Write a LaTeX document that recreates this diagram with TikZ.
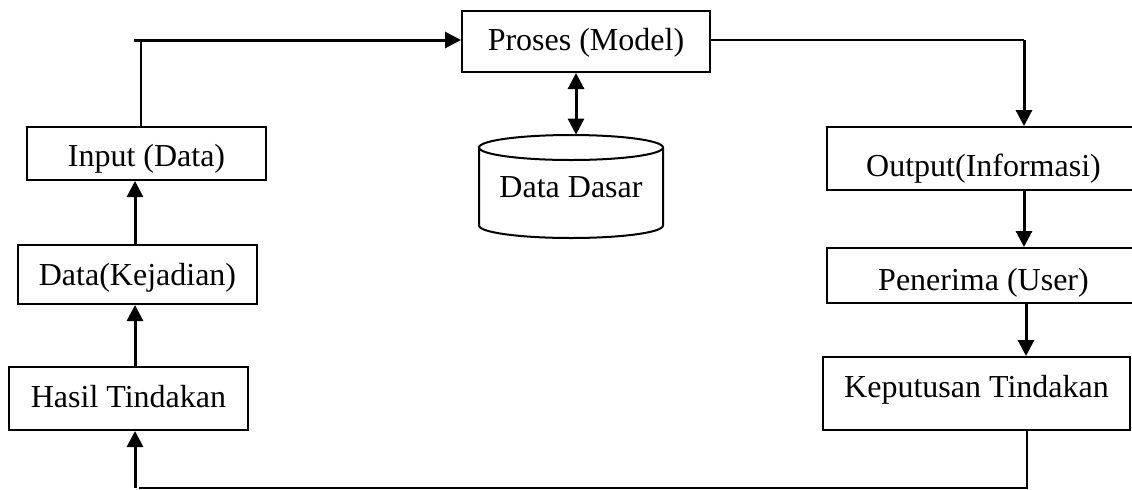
\documentclass[tikz,border=0pt]{standalone}
\usepackage{fontspec}
\setmainfont{Liberation Serif}
\usetikzlibrary{arrows.meta}
\begin{document}
\begin{tikzpicture}[x=0.5pt, y=-0.5pt,
  font=\fontsize{16pt}{19pt}\selectfont,
  box/.style={draw, line width=1pt, inner sep=0pt, align=center, text depth=4pt},
  lift/.style={text height=#1},
  link/.style={line width=1pt},
  flow/.style={line width=1.5pt, -{Triangle[width=8pt,length=8pt]}},
  twoway/.style={line width=1.5pt, {Triangle[width=8pt,length=8pt]}-{Triangle[width=8pt,length=8pt]}}]
\useasboundingbox (0,0) rectangle (1132,489);
\clip (0,0) rectangle (1132,489);

% boxes
\node[box, lift=16.5pt, minimum width=119.5pt, minimum height=26.5pt] (inp) at (146.5,153.5) {Input (Data)};
\node[box, lift=12.5pt, minimum width=124pt, minimum height=30.5pt] (proc) at (586,41.5) {Proses (Model)};
\node[box, lift=14.5pt, minimum width=119.5pt, minimum height=29.5pt] (kej) at (137.5,274.5) {Data(Kejadian)};
\node[box, lift=12.5pt, minimum width=119.5pt, minimum height=31.5pt] (has) at (128.5,398.5) {Hasil Tindakan};
\node[box, lift=22pt, minimum width=156.5pt, minimum height=31.5pt] (out) at (983.5,158.5) {Output(Informasi)};
\node[box, lift=18.5pt, minimum width=156.5pt, minimum height=27.5pt] (pen) at (983.5,275.5) {Penerima (User)};
\node[box, lift=7.5pt, minimum width=153.5pt, minimum height=36.5pt] (kep) at (976.5,393.5) {Keputusan Tindakan};

% database cylinder
\node[inner sep=0pt, text depth=4pt, text height=15pt, minimum width=92pt, minimum height=51.5pt] (db) at (571,186.5) {Data Dasar};
\draw[line width=1pt]
  (479,147.5) -- (479,225.5) arc[start angle=180, end angle=360, x radius=46pt, y radius=6.25pt]
  -- (663,147.5);
\draw[line width=1pt] (571,147.5) ellipse [x radius=46pt, y radius=6.25pt];

% guide coordinates for the connector columns
\coordinate (lx) at (135,0);
\coordinate (tx) at (141,0);
\coordinate (tl) at (134,40);
\coordinate (dbx) at (576,0);
\coordinate (rx) at (1024,0);
\coordinate (rx2) at (1026,0);
\coordinate (br) at (1027,488);
\coordinate (bl) at (139,488);
\coordinate (ba) at (135,488);

% left column
\draw[flow] (has.north -| lx) -- (kej.south -| lx);
\draw[flow] (kej.north -| lx) -- (inp.south -| lx);
\draw[link] (inp.north -| tx) -- (tx |- tl);
\draw[flow] (tl) -- (proc.west |- tl);

% model and database
\draw[twoway] (proc.south -| dbx) -- (db.north -| dbx);

% right column
\draw[link] (proc.east |- tl) -- (rx |- tl);
\draw[flow] (rx |- tl) -- (out.north -| rx);
\draw[flow] (out.south -| rx) -- (pen.north -| rx);
\draw[flow] (pen.south -| rx2) -- (kep.north -| rx2);

% feedback loop
\draw[link] (kep.south -| br) -- (br) -- (bl);
\draw[flow] (ba) -- (has.south -| lx);
\end{tikzpicture}
\end{document}
